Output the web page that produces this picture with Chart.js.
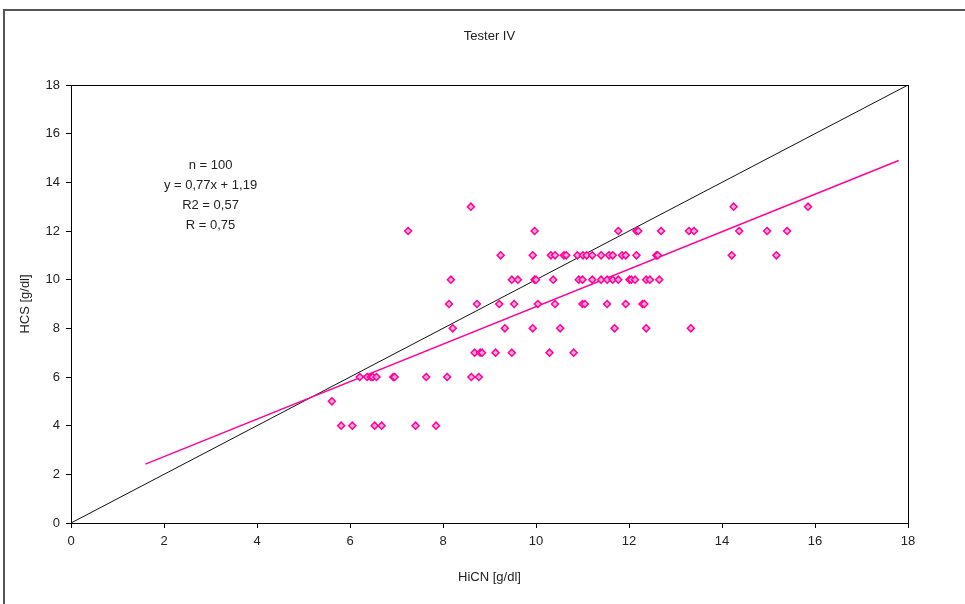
<!DOCTYPE html>
<html lang="pl">
<head>
  <meta charset="UTF-8" />
  <title>Tester IV</title>
  <script src="https://cdn.jsdelivr.net/npm/chart.js"></script>
  <style>
    body { margin: 0; background: #fff; overflow: hidden; }
    #frame { position: absolute; left: 3px; top: 9px; width: 1000px; height: 700px; border: 2px solid #555; box-sizing: border-box; }
    #wrap { position: absolute; left: 0; top: 0; width: 965px; height: 604px; }
  </style>
</head>
<body>
<div id="frame"></div>
<div id="wrap"><canvas id="chart" width="965" height="604"></canvas></div>

<script>
// HiCN (x) and HCS (y) readings
const hicn = [
  8.60, 14.25, 15.85,
  7.25, 9.97, 11.77, 12.16, 12.20, 12.69, 13.29, 13.40, 14.37, 14.97, 15.40,
  9.24, 9.93, 10.32, 10.41, 10.60, 10.65, 10.89, 11.01, 11.09, 11.21, 11.40, 11.57, 11.65, 11.85, 11.93, 12.16, 12.59, 12.62, 14.21, 15.17,
  8.17, 9.48, 9.61, 9.97, 10.00, 10.37, 10.92, 11.00, 11.21, 11.40, 11.53, 11.65, 11.77, 12.01, 12.05, 12.13, 12.37, 12.45, 12.65,
  8.13, 8.73, 9.21, 9.53, 10.04, 10.41, 11.00, 11.05, 11.53, 11.93, 12.29, 12.33,
  8.21, 9.33, 9.93, 10.52, 11.69, 12.37, 13.33,
  8.68, 8.80, 8.84, 9.13, 9.48, 10.29, 10.81,
  6.21, 6.37, 6.45, 6.49, 6.57, 6.93, 6.96, 7.64, 8.09, 8.61, 8.77,
  5.61,
  5.81, 6.05, 6.53, 6.68, 7.41, 7.85
];
const hcs = [
  13, 13, 13,
  12, 12, 12, 12, 12, 12, 12, 12, 12, 12, 12,
  11, 11, 11, 11, 11, 11, 11, 11, 11, 11, 11, 11, 11, 11, 11, 11, 11, 11, 11, 11,
  10, 10, 10, 10, 10, 10, 10, 10, 10, 10, 10, 10, 10, 10, 10, 10, 10, 10, 10,
  9, 9, 9, 9, 9, 9, 9, 9, 9, 9, 9, 9,
  8, 8, 8, 8, 8, 8, 8,
  7, 7, 7, 7, 7, 7, 7,
  6, 6, 6, 6, 6, 6, 6, 6, 6, 6, 6,
  5,
  4, 4, 4, 4, 4, 4
];

// reference line y = x and the fitted line, end points
const identX = [0, 18];
const identY = [0, 18];
const fitX = [1.6, 17.8];
const fitY = [2.42, 14.9];

const tickValues = [0, 2, 4, 6, 8, 10, 12, 14, 16, 18];
const titleText = "Tester IV";
const statLines = ["n = 100", "y = 0,77x + 1,19", "R2 = 0,57", "R = 0,75"];

const pink = "#ff0099";
const textColor = "#222";
const font = "Liberation Sans, Arial, sans-serif";

const toPoints = (xs, ys) => xs.map((x, i) => ({ x: x, y: ys[i] }));

// plot frame, title and the statistics block
const extras = {
  id: "extras",
  afterDraw(chart) {
    const { ctx, chartArea: a } = chart;
    ctx.save();
    ctx.strokeStyle = "#000";
    ctx.lineWidth = 1;
    ctx.strokeRect(a.left + 0.5, a.top + 0.5, a.right - a.left, a.bottom - a.top);
    ctx.fillStyle = textColor;
    ctx.textAlign = "center";
    ctx.textBaseline = "middle";
    ctx.font = "13px " + font;
    ctx.fillText(titleText, (a.left + a.right) / 2, 36);
    const cx = chart.scales.x.getPixelForValue(3);
    statLines.forEach((t, i) => ctx.fillText(t, cx, a.top + 80 + i * 20));
    ctx.restore();
  }
};

const axisCommon = {
  type: "linear",
  min: 0,
  max: 18,
  ticks: { stepSize: 2, color: textColor, font: { size: 13, family: font } },
  grid: { drawOnChartArea: false, drawTicks: true, tickLength: 5, color: "#000" },
  border: { color: "#000" }
};

new Chart(document.getElementById("chart"), {
  type: "scatter",
  data: {
    datasets: [
      {
        data: toPoints(hicn, hcs),
        pointStyle: "rectRot",
        pointRadius: 3.5,
        borderWidth: 1.5,
        borderColor: pink,
        backgroundColor: "#ffa8d6",
        order: 0
      },
      {
        type: "line",
        data: toPoints(fitX, fitY),
        borderColor: pink,
        borderWidth: 1.5,
        pointRadius: 0,
        order: 1
      },
      {
        type: "line",
        data: toPoints(identX, identY),
        borderColor: "#111",
        borderWidth: 1,
        pointRadius: 0,
        order: 2
      }
    ]
  },
  options: {
    responsive: false,
    animation: false,
    layout: { padding: { top: 85, right: 57, left: 0, bottom: 0 } },
    plugins: { legend: { display: false }, title: { display: false }, tooltip: { enabled: false } },
    scales: {
      x: {
        ...axisCommon,
        ticks: { ...axisCommon.ticks, padding: 6 },
        title: { display: true, text: "HiCN [g/dl]", color: textColor, font: { size: 13, family: font }, padding: { top: 0, bottom: 19 } },
        afterBuildTicks: s => { s.ticks = tickValues.map(v => ({ value: v })); },
        afterFit: s => { s.height = 81; s.paddingLeft = 0; s.paddingRight = 0; }
      },
      y: {
        ...axisCommon,
        ticks: { ...axisCommon.ticks, padding: 6 },
        title: { display: true, text: "HCS [g/dl]", color: textColor, font: { size: 13, family: font }, padding: { top: 18, bottom: 0 } },
        afterBuildTicks: s => { s.ticks = tickValues.map(v => ({ value: v })); },
        afterFit: s => { s.width = 71; s.paddingTop = 0; s.paddingBottom = 0; }
      }
    }
  },
  plugins: [extras]
});
</script>
</body>
</html>
